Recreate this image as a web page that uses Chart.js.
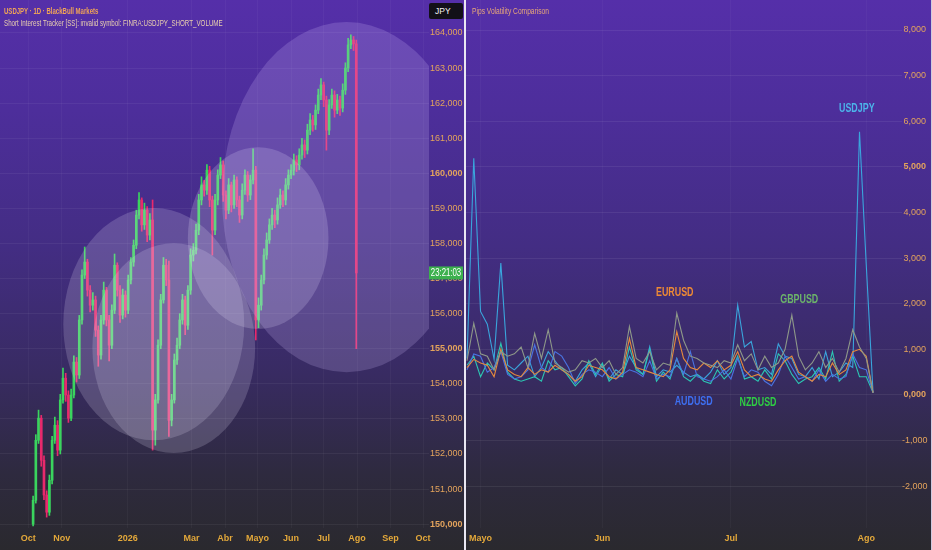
<!DOCTYPE html>
<html lang="es">
<head>
<meta charset="UTF-8" />
<title>USDJPY – Pips Volatility Comparison</title>
<script src="https://cdn.jsdelivr.net/npm/chart.js"></script>
<style>
  html, body { margin: 0; padding: 0; }
  body {
    width: 932px;
    height: 550px;
    overflow: hidden;
    position: relative;
    background: linear-gradient(to bottom, #552fa9 0%, #4d2e9b 20%, #432d83 45%, #382b62 68%, #2e2a3f 86%, #2a292e 100%);
    font-family: "Liberation Sans", Arial, sans-serif;
  }
  canvas { position: absolute; top: 0; }
  #priceChart { left: 0; }
  #volChart { left: 466px; }
  .divider { position: absolute; top: 0; left: 464px; width: 2px; height: 550px; background: #e9e7f2; }
  .edge { position: absolute; top: 0; right: 0; width: 1px; height: 550px; background: #cfcbe0; }
  .txt { position: absolute; white-space: nowrap; line-height: 1; transform-origin: left top; }
  #sym { left: 4px; top: 7px; font-size: 9px; font-weight: bold; color: #f0a457; transform: scaleX(0.67); }
  #ind { left: 4px; top: 19px; font-size: 9px; color: #e9cfae; transform: scaleX(0.69); }
  #volTitle { left: 472px; top: 7px; font-size: 9px; color: #e8a878; transform: scaleX(0.74); }
  #jpy { left: 429px; top: 3px; width: 34px; height: 16px; background: #121018; border-radius: 2px;
         color: #f2f2f2; font-size: 8.5px; line-height: 16px; text-indent: 6px; }
</style>
</head>
<body>
<canvas id="priceChart" width="464" height="550"></canvas>
<canvas id="volChart" width="466" height="550"></canvas>
<div class="divider"></div>
<div class="edge"></div>
<div class="txt" id="sym">USDJPY · 1D · BlackBull Markets</div>
<div class="txt" id="ind">Short Interest Tracker [SS]: invalid symbol: FINRA:USDJPY_SHORT_VOLUME</div>
<div class="txt" id="jpy">JPY</div>
<div class="txt" id="volTitle">Pips Volatility Comparison</div>

<script>
// ---- left pane: USDJPY daily candles (days counted from 1 Oct 2025) ----
const firstCandleDay = 4.6;
const candleStep = 2.51;

const opens = [
  150.00,150.68,152.39,153.02,151.82,150.83,150.34,151.25,152.39,152.82,
  152.11,153.54,154.16,153.68,153.02,153.68,154.62,154.25,155.82,157.10,
  157.47,156.67,156.24,156.39,155.53,154.82,155.82,156.67,155.82,155.10,
  156.10,157.38,156.67,155.96,156.53,156.10,156.96,157.47,157.95,158.81,
  159.24,158.53,158.95,158.24,158.67,152.68,153.54,155.10,156.39,157.38,
  156.96,152.96,153.54,154.68,155.10,155.82,156.39,155.67,156.67,157.67,
  157.81,158.38,159.24,159.67,159.52,160.09,159.24,158.38,159.24,159.95,
  160.24,159.38,158.95,159.67,159.10,159.81,159.24,158.81,159.52,159.95,
  159.38,159.81,160.09,155.82,156.24,156.96,157.67,158.10,158.53,158.81,
  158.67,159.10,159.38,159.24,159.67,159.95,160.09,160.38,160.24,160.52,
  160.81,160.66,161.23,161.52,161.38,161.80,162.23,162.52,162.09,161.23,
  161.95,162.23,161.80,162.09,161.86,162.37,163.00,163.66,163.80,163.69
];
const closes = [
  150.68,152.39,153.02,151.82,150.83,150.34,151.25,152.39,152.82,152.11,
  153.54,154.16,153.68,153.02,153.68,154.62,154.25,155.82,157.10,157.47,
  156.67,156.24,156.39,155.53,154.82,155.82,156.67,155.82,155.10,156.10,
  157.38,156.67,155.96,156.53,156.10,156.96,157.47,157.95,158.81,159.24,
  158.53,158.95,158.24,158.67,152.68,153.54,155.10,156.39,157.38,156.96,
  152.96,153.54,154.68,155.10,155.82,156.39,155.67,156.67,157.67,157.81,
  158.38,159.24,159.67,159.52,160.09,159.24,158.38,159.24,159.95,160.24,
  159.38,158.95,159.67,159.10,159.81,159.24,158.81,159.52,159.95,159.38,
  159.81,160.09,155.82,156.24,156.96,157.67,158.10,158.53,158.81,158.67,
  159.10,159.38,159.24,159.67,159.95,160.09,160.38,160.24,160.52,160.81,
  160.66,161.23,161.52,161.38,161.80,162.23,162.52,162.09,161.23,161.95,
  162.23,161.80,162.09,161.86,162.37,163.00,163.66,163.80,163.69,157.16
];
const highs = [
  150.80,152.55,153.25,153.10,151.95,150.95,151.40,152.50,153.05,152.95,
  153.70,154.45,154.30,153.80,153.85,154.80,154.75,155.95,157.25,157.90,
  157.55,156.80,156.60,156.50,155.65,155.95,156.90,156.75,155.95,156.25,
  157.70,157.45,156.80,156.70,156.65,157.10,157.60,158.10,158.95,159.45,
  159.30,159.15,159.05,158.85,159.24,153.70,155.25,156.55,157.60,157.55,
  157.50,153.70,154.85,155.30,156.00,156.55,156.50,156.80,157.85,158.00,
  158.55,159.40,159.90,159.80,160.25,160.20,159.35,159.40,160.10,160.45,
  160.35,159.50,159.85,159.75,159.95,159.90,159.35,159.70,160.10,160.05,
  159.95,160.70,160.20,156.45,157.10,157.85,158.30,158.70,159.00,158.95,
  159.30,159.55,159.50,159.85,160.10,160.25,160.55,160.50,160.70,161.00,
  160.95,161.40,161.70,161.65,161.95,162.40,162.70,162.60,162.20,162.10,
  162.40,162.35,162.25,162.20,162.55,163.15,163.85,163.95,163.90,163.80
];
const lows = [
  149.95,150.60,152.30,151.65,150.70,150.20,150.25,151.15,152.30,151.95,
  152.00,153.45,153.50,152.90,152.95,153.60,154.05,154.15,155.70,157.00,
  156.50,156.05,156.10,155.35,154.50,154.70,155.70,155.65,154.65,155.00,
  156.00,156.50,155.75,155.85,155.90,156.00,156.85,157.35,157.85,158.70,
  158.35,158.40,158.05,158.10,152.11,152.25,153.45,155.00,156.30,156.80,
  152.50,152.80,153.45,154.55,155.00,155.70,155.40,155.55,156.55,157.50,
  157.70,158.25,159.10,159.35,159.40,159.05,157.67,158.25,159.10,159.85,
  159.20,158.70,158.85,158.90,159.00,159.05,158.60,158.70,159.40,159.20,
  159.25,159.70,155.25,155.60,156.10,156.85,157.55,158.00,158.40,158.45,
  158.55,159.00,159.05,159.10,159.55,159.85,159.95,160.05,160.10,160.40,
  160.45,160.55,161.10,161.20,161.25,161.70,162.10,161.90,160.66,161.10,
  161.85,161.60,161.70,161.65,161.75,162.25,162.90,163.55,163.50,155.00
];

const monthDays = [0, 31, 92, 151, 182, 212, 243, 273, 304, 335, 365];
const monthNames = ['Oct', 'Nov', '2026', 'Mar', 'Abr', 'Mayo', 'Jun', 'Jul', 'Ago', 'Sep', 'Oct'];
const priceTicks = [150, 151, 152, 153, 154, 155, 156, 157, 158, 159, 160, 161, 162, 163, 164];
const countdown = '23:21:03';

// highlighted zones (centre day / price, radius in days / price)
const zoneDay = [116.1, 134.6, 212.6, 294.3];
const zonePrice = [155.70, 155.02, 158.15, 159.32];
const zoneDayR = [83.6, 75.2, 65.0, 115.1];
const zonePriceR = [3.31, 2.99, 2.59, 4.99];
const zoneFills = ['rgba(232,226,250,0.19)', 'rgba(232,226,250,0.19)', 'rgba(236,232,252,0.2)', 'rgba(214,196,255,0.2)'];

// ---- right pane: pips volatility ----
const volMonthIdx = [2, 20, 39, 59];
const volMonthNames = ['Mayo', 'Jun', 'Jul', 'Ago'];
const volTicks = [-2, -1, 0, 1, 2, 3, 4, 5, 6, 7, 8];

const usdjpy = [0.80,5.19,1.83,1.55,0.78,2.89,0.65,0.55,0.70,0.85, 0.40,0.60,0.95,0.75,0.55,0.45,0.30,0.55,0.70,0.40,
  0.65,0.35,0.55,0.45,0.85,0.60,0.45,1.06,0.40,0.55, 0.50,0.65,0.50,0.40,0.45,0.35,0.50,0.75,0.45,0.60,
  1.97,1.05,1.17,0.55,0.60,0.45,1.12,0.85,0.80,0.45, 0.40,0.60,0.35,0.95,0.40,0.50,0.70,0.60,5.77,2.85, 0.05];
const eurusd = [0.60,0.78,0.70,0.65,0.40,1.00,0.55,0.45,0.40,0.60, 0.45,0.55,0.50,0.65,0.55,0.45,0.30,0.40,0.65,0.60,
  0.55,0.40,0.35,0.50,1.24,0.60,0.55,0.50,0.45,0.40, 0.55,1.39,0.80,0.60,0.55,0.70,0.60,0.75,0.55,0.65,
  0.95,0.55,0.40,0.45,0.35,0.30,0.55,0.75,0.85,0.50, 0.40,0.30,0.45,0.40,0.70,0.45,0.55,0.95,1.00,0.85, 0.05];
const gbpusd = [0.75,1.57,0.90,0.85,0.55,0.95,0.85,0.90,1.05,0.60, 1.35,0.80,1.43,0.70,0.60,0.50,0.55,0.75,0.70,0.80,
  0.60,0.75,0.45,0.60,1.50,0.80,0.70,0.95,0.55,0.70, 0.65,1.79,1.20,0.85,0.80,0.70,0.65,0.60,0.75,0.70,
  1.10,0.75,0.90,0.55,0.85,0.60,0.70,1.00,1.75,0.85, 0.55,0.70,0.95,0.60,0.80,0.50,0.80,1.43,1.05,0.80, 0.05];
const audusd = [0.55,0.90,0.85,0.50,0.60,0.95,0.45,0.35,0.40,0.55, 1.10,0.60,0.50,0.95,0.85,0.60,0.25,0.45,0.55,0.50,
  0.40,0.60,0.35,0.45,0.55,0.50,0.40,0.75,0.35,0.45, 0.40,0.80,0.45,0.95,0.40,0.35,0.30,0.40,0.55,0.35,
  0.80,0.40,0.55,0.50,0.30,0.20,0.45,0.85,0.60,0.35, 0.40,0.30,0.55,0.30,0.45,0.35,0.40,0.90,0.60,0.55, 0.05];
const nzdusd = [0.65,0.85,0.40,0.70,0.55,1.13,0.50,0.35,0.30,0.35, 0.40,0.30,0.75,0.55,0.60,0.40,0.20,0.35,0.75,0.45,
  0.70,0.30,0.45,0.40,1.05,0.55,0.45,1.00,0.30,0.50, 0.35,0.80,0.40,0.30,0.45,0.30,0.25,0.55,0.35,0.50,
  0.85,0.35,0.40,0.30,0.55,0.35,0.90,0.75,0.45,0.25, 0.35,0.40,0.60,0.35,0.95,0.30,0.45,0.85,0.40,0.40, 0.05];

const pairNames = ['USDJPY', 'EURUSD', 'GBPUSD', 'AUDUSD', 'NZDUSD'];
const pairLabelIdx = [57.6, 30.7, 49.1, 33.5, 43.0];
const pairLabelVal = [6.27, 2.24, 2.08, -0.15, -0.18];

const FONT = '"Liberation Sans", Arial, sans-serif';
Chart.defaults.font.family = FONT;
Chart.defaults.animation = false;

const GREEN = '#3ad45e';
const RED = '#e8296c';
const AXIS_Y = '#e3a35c';
const AXIS_X = '#e3a83a';

const fmt = v => v.toFixed(3).replace('.', ',');
const noPadX = s => { s.height = 22; s.paddingLeft = 0; s.paddingRight = 0; };

// draw a horizontally condensed text, like the narrow terminal font
function narrowText(ctx, str, x, y, squeeze) {
  ctx.save();
  ctx.translate(x, y);
  ctx.scale(squeeze, 1);
  ctx.fillText(str, 0, 0);
  ctx.restore();
}

// candles
const candleColors = closes.map((c, i) => c >= opens[i] ? GREEN : RED);
const wickData = closes.map((c, i) => ({ x: firstCandleDay + i * candleStep, y: [lows[i], highs[i]] }));
const bodyData = closes.map((c, i) => ({ x: firstCandleDay + i * candleStep, y: [opens[i], c] }));

const zonesAndPrice = {
  id: 'zonesAndPrice',
  afterDatasetsDraw(chart) {
    const { ctx, chartArea: a, scales: { x, y } } = chart;
    ctx.save();
    ctx.beginPath();
    ctx.rect(a.left, a.top, a.width, a.height);
    ctx.clip();
    zoneDay.forEach((d, k) => {
      const cx = x.getPixelForValue(d);
      const cy = y.getPixelForValue(zonePrice[k]);
      const rx = Math.abs(x.getPixelForValue(d + zoneDayR[k]) - cx);
      const ry = Math.abs(y.getPixelForValue(zonePrice[k] + zonePriceR[k]) - cy);
      ctx.beginPath();
      ctx.ellipse(cx, cy, rx, ry, 0, 0, Math.PI * 2);
      ctx.fillStyle = zoneFills[k];
      ctx.fill();
    });
    ctx.restore();
  },
  afterDraw(chart) {
    const { ctx, chartArea: a, scales: { y } } = chart;
    const py = y.getPixelForValue(closes[closes.length - 1]);
    ctx.save();
    ctx.fillStyle = '#3cb04e';
    ctx.fillRect(a.right, py - 6.5, 34, 13);
    ctx.fillStyle = '#ffffff';
    ctx.font = '10px ' + FONT;
    ctx.textAlign = 'center';
    ctx.textBaseline = 'middle';
    narrowText(ctx, countdown, a.right + 17, py + 0.5, 0.78);
    ctx.restore();
  }
};

new Chart(document.getElementById('priceChart'), {
  type: 'bar',
  data: {
    datasets: [
      { data: wickData, backgroundColor: candleColors, barThickness: 1, grouped: false, order: 2 },
      { data: bodyData, backgroundColor: candleColors, barThickness: 2, minBarLength: 1, grouped: false, order: 1 }
    ]
  },
  options: {
    responsive: false,
    layout: { padding: 0 },
    plugins: { legend: { display: false }, tooltip: { enabled: false } },
    scales: {
      x: {
        type: 'linear', min: -26, max: 370.5, offset: false,
        grid: { color: 'rgba(255,255,255,0.035)', drawTicks: false, offset: false },
        border: { display: false },
        afterBuildTicks: s => { s.ticks = monthDays.map(v => ({ value: v })); },
        afterFit: noPadX,
        ticks: {
          autoSkip: false, maxRotation: 0, padding: 5, color: AXIS_X,
          font: { size: 9, weight: 'bold' },
          callback: (v, i) => monthNames[i]
        }
      },
      y: {
        position: 'right', min: 149.89, max: 164.94,
        grid: { color: 'rgba(255,255,255,0.055)', drawTicks: false },
        border: { display: false },
        afterBuildTicks: s => { s.ticks = priceTicks.map(v => ({ value: v })); },
        afterFit: s => { s.width = 35; s.paddingTop = 0; s.paddingBottom = 0; },
        ticks: {
          padding: 1, color: AXIS_Y,
          font: c => ({ size: 9, weight: c.tick && c.tick.value % 5 === 0 ? 'bold' : 'normal' }),
          callback: v => fmt(v)
        }
      }
    }
  },
  plugins: [zonesAndPrice]
});

// volatility lines
const labelColors = ['#4cb3ea', '#ee8a34', '#6cb46a', '#3e6ff0', '#2fcd44'];
const barIndex = usdjpy.map((v, i) => i);

const pairLabels = {
  id: 'pairLabels',
  afterDatasetsDraw(chart) {
    const { ctx, scales: { x, y } } = chart;
    ctx.save();
    ctx.font = 'bold 12px ' + FONT;
    ctx.textAlign = 'center';
    ctx.textBaseline = 'middle';
    pairNames.forEach((n, k) => {
      ctx.fillStyle = labelColors[k];
      narrowText(ctx, n, x.getPixelForValue(pairLabelIdx[k]), y.getPixelForValue(pairLabelVal[k]), 0.74);
    });
    ctx.restore();
  }
};

new Chart(document.getElementById('volChart'), {
  type: 'line',
  data: {
    labels: barIndex,
    datasets: [
      { label: 'GBPUSD', data: gbpusd, borderColor: '#8e9889' },
      { label: 'EURUSD', data: eurusd, borderColor: '#e5893d' },
      { label: 'AUDUSD', data: audusd, borderColor: '#4a74e2' },
      { label: 'NZDUSD', data: nzdusd, borderColor: '#2cc6b2' },
      { label: 'USDJPY', data: usdjpy, borderColor: '#3aa5dc' }
    ]
  },
  options: {
    responsive: false,
    layout: { padding: 0 },
    elements: { point: { radius: 0 }, line: { borderWidth: 1.1, tension: 0 } },
    plugins: { legend: { display: false }, tooltip: { enabled: false } },
    scales: {
      x: {
        type: 'linear', min: -0.148, max: 64.28,
        grid: { color: 'rgba(255,255,255,0.03)', drawTicks: false },
        border: { display: false },
        afterBuildTicks: s => { s.ticks = volMonthIdx.map(v => ({ value: v })); },
        afterFit: noPadX,
        ticks: {
          autoSkip: false, maxRotation: 0, padding: 5, color: AXIS_X,
          font: { size: 9, weight: 'bold' },
          callback: (v, i) => volMonthNames[i]
        }
      },
      y: {
        position: 'right', min: -2.917, max: 8.658,
        grid: { color: 'rgba(255,255,255,0.07)', drawTicks: false },
        border: { display: false },
        afterBuildTicks: s => { s.ticks = volTicks.map(v => ({ value: v })); },
        afterFit: s => { s.width = 30; s.paddingTop = 0; s.paddingBottom = 0; },
        ticks: {
          padding: 0, crossAlign: 'center', color: AXIS_Y,
          font: c => ({ size: 9, weight: c.tick && c.tick.value % 5 === 0 ? 'bold' : 'normal' }),
          callback: v => fmt(v)
        }
      }
    }
  },
  plugins: [pairLabels]
});
</script>
</body>
</html>
